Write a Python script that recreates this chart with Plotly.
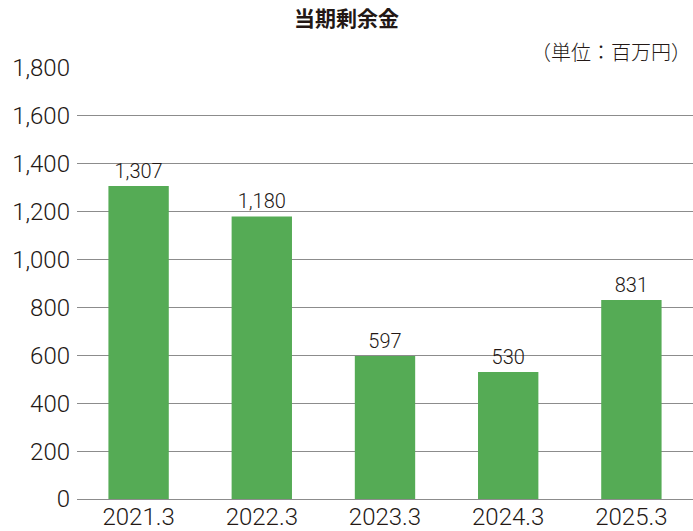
import plotly.graph_objects as go

# 当期剰余金 (単位：百万円)
years = ["2021.3", "2022.3", "2023.3", "2024.3", "2025.3"]
surplus = [1307, 1180, 597, 530, 831]
y_ticks = [0, 200, 400, 600, 800, 1000, 1200, 1400, 1600, 1800]

num_font = "Roboto, Liberation Sans, sans-serif"
jp_font = "Noto Sans CJK JP"
ink = "#231815"

fig = go.Figure(
    go.Bar(
        x=years,
        y=surplus,
        width=0.49,
        marker_color="#55ab55",
        marker_line_width=0,
        text=[f"{v:,}" for v in surplus],
        textposition="outside",
        textfont=dict(family=num_font, size=20, color=ink, weight=300),
        cliponaxis=False,
    )
)

fig.update_layout(
    width=693,
    height=531,
    margin=dict(t=68, l=77, r=0, b=30),
    plot_bgcolor="white",
    paper_bgcolor="white",
    showlegend=False,
    title=dict(
        text="<b>当期剰余金</b>",
        x=0.5,
        xanchor="center",
        y=0.978,
        yanchor="top",
        font=dict(family=jp_font, size=21, color=ink),
    ),
    annotations=[
        dict(
            text="（単位：百万円）",
            xref="paper",
            yref="paper",
            x=1.0,
            y=1.0,
            xanchor="right",
            yanchor="bottom",
            showarrow=False,
            font=dict(family=jp_font, size=20, color=ink, weight=300),
        )
    ],
)

fig.update_yaxes(
    range=[0, 1800],
    tickvals=y_ticks,
    ticktext=[f"{v:,}" for v in y_ticks],
    showgrid=True,
    gridcolor="#8c8c8c",
    gridwidth=1,
    zeroline=True,
    zerolinecolor="#8c8c8c",
    zerolinewidth=1,
    showline=False,
    ticks="",
    ticklabelstandoff=6,
    tickfont=dict(family=num_font, size=24, color=ink, weight=300),
)
fig.update_xaxes(
    showline=False,
    ticks="",
    ticklabelstandoff=1,
    tickfont=dict(family=num_font, size=24, color=ink, weight=300),
)

# drop the page's default body margin so the figure sits at the window's corner
fig.write_html(
    "out.html",
    config={"displayModeBar": False},
    post_script="document.body.style.margin='0';",
)
